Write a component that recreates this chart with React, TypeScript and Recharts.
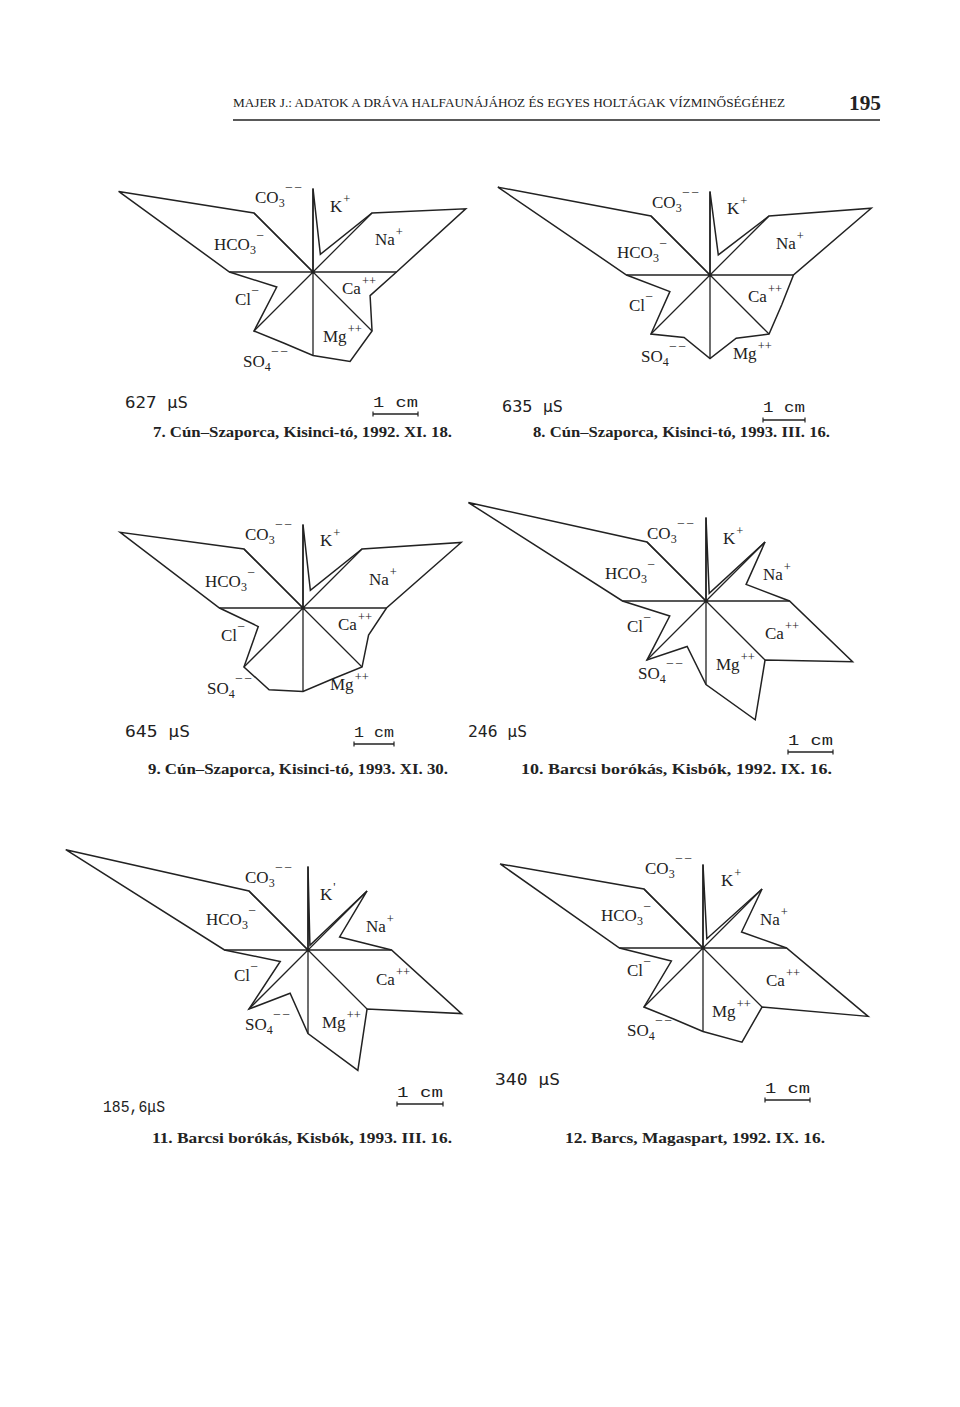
import React from 'react';
import { ScatterChart, Scatter, XAxis, YAxis } from 'recharts';

// ---------- data ----------
// ion order, clockwise from the top (each ion owns a 45° sector)
const IONS = ['K', 'Na', 'Ca', 'Mg', 'SO4', 'Cl', 'HCO3', 'CO3'];

// tip distance of every ion along its sector bisector, in units of the base radius
const site7 = [0.23, 1.98, 0.74, 1.16, 0.92, 0.47, 2.52, 0.0];
const site8 = [0.26, 2.09, 0.93, 0.82, 0.81, 0.52, 2.75, 0.0];
const site9 = [0.23, 2.05, 0.85, 0.92, 1.06, 0.58, 2.37, 0.0];
const site10 = [0.1, 0.52, 1.9, 1.54, 0.59, 0.47, 3.08, 0.0];
const site11 = [0.06, 0.41, 1.99, 1.56, 0.56, 0.36, 3.14, 0.0];
const site12 = [0.12, 0.5, 2.14, 1.22, 0.92, 0.41, 2.63, 0.0];

const conductivity = ['627 μS', '635 μS', '645 μS', '246 μS', '185,6μS', '340 μS'];
const captions = [
  '7. Cún–Szaporca, Kisinci-tó, 1992. XI. 18.',
  '8. Cún–Szaporca, Kisinci-tó, 1993. III. 16.',
  '9. Cún–Szaporca, Kisinci-tó, 1993. XI. 30.',
  '10. Barcsi borókás, Kisbók, 1992. IX. 16.',
  '11. Barcsi borókás, Kisbók, 1993. III. 16.',
  '12. Barcs, Magaspart, 1992. IX. 16.',
];
const HEADER = 'MAJER J.: ADATOK A DRÁVA HALFAUNÁJÁHOZ ÉS EGYES HOLTÁGAK VÍZMINŐSÉGÉHEZ';
const PAGE_NO = '195';

// ---------- layout ----------
const S = 83.5; // px per base radius
const W = 480;
const H = 290;
const CX = 270;
const CY = 140;
const INK = '#222';

type LabelPos = Record<string, [number, number]>;
const LBL7: LabelPos = { CO3: [-58, -69], K: [17, -60], HCO3: [-99, -22], Na: [62, -27], Cl: [-78, 33], Ca: [29, 22], Mg: [10, 70], SO4: [-70, 95] };
const LBL8: LabelPos = { CO3: [-58, -67], K: [17, -61], HCO3: [-93, -17], Na: [66, -26], Cl: [-81, 36], Ca: [38, 27], Mg: [23, 84], SO4: [-69, 87] };
const LBL9: LabelPos = { CO3: [-58, -68], K: [17, -62], HCO3: [-98, -21], Na: [66, -23], Cl: [-82, 33], Ca: [35, 22], Mg: [27, 82], SO4: [-96, 86] };
const LBL10: LabelPos = { CO3: [-59, -62], K: [17, -57], HCO3: [-101, -22], Na: [57, -21], Cl: [-79, 31], Ca: [59, 38], Mg: [10, 69], SO4: [-68, 78] };
const LBL11: LabelPos = { CO3: [-63, -67], K: [12, -50], HCO3: [-102, -25], Na: [58, -18], Cl: [-74, 31], Ca: [68, 35], Mg: [14, 78], SO4: [-63, 80] };
const LBL12: LabelPos = { CO3: [-58, -74], K: [18, -62], HCO3: [-102, -27], Na: [57, -23], Cl: [-76, 28], Ca: [63, 38], Mg: [9, 69], SO4: [-76, 88] };

const DIAGRAMS = [
  { vals: site7, cx: 313, cy: 272, lbl: LBL7, kSup: '+' },
  { vals: site8, cx: 710, cy: 275, lbl: LBL8, kSup: '+' },
  { vals: site9, cx: 303, cy: 608, lbl: LBL9, kSup: '+' },
  { vals: site10, cx: 706, cy: 601, lbl: LBL10, kSup: '+' },
  { vals: site11, cx: 308, cy: 950, lbl: LBL11, kSup: "'" },
  { vals: site12, cx: 703, cy: 948, lbl: LBL12, kSup: '+' },
];

const TEXT_ROWS = [
  { mu: [125, 408, 63], cm: [373, 407, 45, 414] },
  { mu: [502, 412, 61], cm: [763, 412, 42, 420] },
  { mu: [125, 737, 65], cm: [354, 737, 40, 744] },
  { mu: [468, 737, 59], cm: [788, 745, 45, 752] },
  { mu: [103, 1112, 62], cm: [397, 1097, 46, 1104] },
  { mu: [495, 1085, 65], cm: [765, 1093, 45, 1100] },
];
const CAPTION_POS: [number, number, number][] = [
  [153, 437, 299],
  [533, 437, 297],
  [148, 774, 300],
  [521, 774, 311],
  [152, 1143, 300],
  [565, 1143, 260],
];

// ---------- geometry from values ----------
const rad = (deg: number) => (deg * Math.PI) / 180;

function outline(vals: number[]) {
  const pts: { x: number; y: number }[] = [];
  IONS.forEach((_, k) => {
    const a0 = rad(k * 45);
    pts.push({ x: Math.sin(a0), y: Math.cos(a0) });
    const am = rad(k * 45 + 22.5);
    pts.push({ x: vals[k] * Math.sin(am), y: vals[k] * Math.cos(am) });
  });
  pts.push(pts[0]);
  return pts;
}

function spokes() {
  const pts: { x: number; y: number }[] = [];
  IONS.forEach((_, k) => {
    const a0 = rad(k * 45);
    pts.push({ x: 0, y: 0 });
    pts.push({ x: Math.sin(a0), y: Math.cos(a0) });
  });
  return pts;
}

const LABEL_PARTS: Record<string, { main: string; sub?: string; sup?: string; supUp?: number }> = {
  CO3: { main: 'CO', sub: '3', sup: '– –', supUp: 13 },
  K: { main: 'K', sup: '+', supUp: 9 },
  HCO3: { main: 'HCO', sub: '3', sup: '–', supUp: 12 },
  Na: { main: 'Na', sup: '+', supUp: 9 },
  Cl: { main: 'Cl', sup: '–', supUp: 12 },
  Ca: { main: 'Ca', sup: '++', supUp: 9 },
  Mg: { main: 'Mg', sup: '++', supUp: 9 },
  SO4: { main: 'SO', sub: '4', sup: '– –', supUp: 13 },
};

function IonLabel(props: any) {
  const { cx, cy, payload } = props;
  if (cx == null || cy == null) return <g />;
  const p = LABEL_PARTS[payload.ion];
  const sup = payload.ion === 'K' ? payload.kSup : p.sup;
  return (
    <text x={cx} y={cy} fontFamily="'Liberation Serif', 'Times New Roman', serif" fontSize={17} fill={INK}>
      {p.main}
      {p.sub ? (
        <tspan y={cy + 4} fontSize={12}>
          {p.sub}
        </tspan>
      ) : null}
      <tspan y={cy - (p.supUp || 9)} fontSize={12.5} dx={1}>
        {sup}
      </tspan>
    </text>
  );
}

const Empty = () => <g />;

function Maucha({ d }: { d: (typeof DIAGRAMS)[number] }) {
  const star = outline(d.vals);
  const labels = IONS.map((ion) => ({ ion, kSup: d.kSup, x: d.lbl[ion][0] / S, y: -d.lbl[ion][1] / S }));
  return (
    <div style={{ position: 'absolute', left: d.cx - CX, top: d.cy - CY, width: W, height: H }}>
      <ScatterChart width={W} height={H} margin={{ top: 0, right: 0, bottom: 0, left: 0 }}>
        <XAxis type="number" dataKey="x" domain={[-CX / S, (W - CX) / S]} hide allowDataOverflow />
        <YAxis type="number" dataKey="y" domain={[-(H - CY) / S, CY / S]} hide allowDataOverflow />
        <Scatter
          data={spokes()}
          line={{ stroke: INK, strokeWidth: 1.3 }}
          shape={Empty}
          isAnimationActive={false}
        />
        <Scatter
          data={star}
          line={{ stroke: INK, strokeWidth: 1.5, strokeLinejoin: 'miter' }}
          shape={Empty}
          isAnimationActive={false}
        />
        <Scatter data={labels} shape={IonLabel} isAnimationActive={false} />
      </ScatterChart>
    </div>
  );
}

export default function App() {
  return (
    <div style={{ position: 'absolute', left: 0, top: 0, width: 960, height: 1407, background: '#fff', overflow: 'hidden' }}>
      <svg width={960} height={1407} style={{ position: 'absolute', left: 0, top: 0 }}>
        <text x={233} y={107} fontFamily="'Liberation Serif', serif" fontSize={12} fill={INK} textLength={552} lengthAdjust="spacingAndGlyphs">
          {HEADER}
        </text>
        <text x={849} y={110} fontFamily="'Liberation Serif', serif" fontWeight="bold" fontSize={21} fill={INK} textLength={32} lengthAdjust="spacingAndGlyphs">
          {PAGE_NO}
        </text>
        <line x1={233} x2={880} y1={120} y2={120} stroke={INK} strokeWidth={1.3} />
        {TEXT_ROWS.map((r, i) => (
          <g key={i}>
            <text
              x={r.mu[0]}
              y={r.mu[1]}
              fontFamily={i === 4 ? "'Liberation Mono', monospace" : "'DejaVu Sans Mono', monospace"}
              fontSize={i === 4 ? 17 : 16}
              fill={INK}
              textLength={r.mu[2]}
              lengthAdjust="spacingAndGlyphs"
            >
              {conductivity[i]}
            </text>
            <text x={r.cm[0]} y={r.cm[1]} fontFamily="'Liberation Mono', monospace" fontSize={15} fill={INK} textLength={r.cm[2]} lengthAdjust="spacingAndGlyphs">
              1 cm
            </text>
            <line x1={r.cm[0]} x2={r.cm[0] + r.cm[2]} y1={r.cm[3]} y2={r.cm[3]} stroke={INK} strokeWidth={1.3} />
            <line x1={r.cm[0]} x2={r.cm[0]} y1={r.cm[3] - 2.5} y2={r.cm[3] + 2.5} stroke={INK} strokeWidth={1.2} />
            <line x1={r.cm[0] + r.cm[2]} x2={r.cm[0] + r.cm[2]} y1={r.cm[3] - 2.5} y2={r.cm[3] + 2.5} stroke={INK} strokeWidth={1.2} />
          </g>
        ))}
        {captions.map((c, i) => (
          <text
            key={c}
            x={CAPTION_POS[i][0]}
            y={CAPTION_POS[i][1]}
            fontFamily="'Liberation Serif', serif"
            fontWeight="bold"
            fontSize={14.5}
            fill={INK}
            textLength={CAPTION_POS[i][2]}
            lengthAdjust="spacingAndGlyphs"
          >
            {c}
          </text>
        ))}
      </svg>
      {DIAGRAMS.map((d, i) => (
        <Maucha key={i} d={d} />
      ))}
    </div>
  );
}
